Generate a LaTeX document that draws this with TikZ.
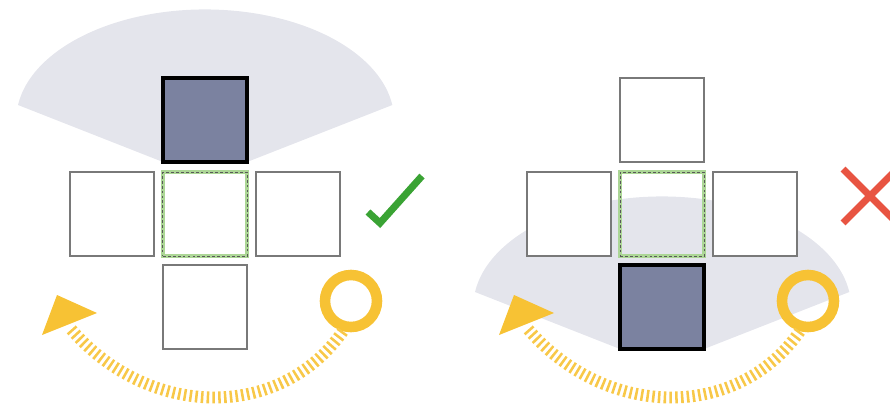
\documentclass[tikz,border=0pt]{standalone}
\usepackage{xcolor}
\usepackage{tikz}
\usetikzlibrary{calc,positioning,backgrounds}

\definecolor{wedgegray}{RGB}{228,229,236}
\definecolor{slate}{RGB}{123,130,160}
\definecolor{goalgreen}{RGB}{172,214,150}
\definecolor{okgreen}{RGB}{58,163,52}
\definecolor{badred}{RGB}{232,84,66}
\definecolor{amber}{RGB}{247,194,52}

\begin{document}
\begin{tikzpicture}[x=0.025cm, y=-0.025cm,
          cell/.style={draw=gray!95!black, fill=white, line width=1.1pt, minimum size=2.1cm, inner sep=0pt, outer sep=0pt},
          seen/.style={cell, draw=black, fill=slate, line width=2.6pt},
          goal/.style={cell, fill=none, draw=goalgreen, line width=2.6pt,
            postaction={draw=gray!70!black, line width=0.7pt, dash pattern=on 2pt off 1.5pt}},
          fov/.style={fill=wedgegray},
          ring/.style={circle, draw=amber, line width=7.5pt, minimum size=1.3cm, inner sep=0pt},
          trail/.style={draw=amber!90, line width=8.5pt, dash pattern=on 1.8pt off 2.3pt},
          signstroke/.style={line width=5pt},
        ]
        \useasboundingbox (0,0) rectangle (890,409);
        % left: the cell ahead is seen
        \node[seen] (Ltop) at (205,120) {};
        \node[cell] (Lleft) at (112,214) {};
        \node[goal] (Lmid) at (205,214) {};
        \node[cell] (Lright) at (298,214) {};
        \node[cell] (Lbot) at (205,307) {};
        % right: the cell behind is seen
        \node[cell] (Rtop) at (662,120) {};
        \node[cell] (Rleft) at (569,214) {};
        \node[goal] (Rmid) at (662,214) {};
        \node[cell] (Rright) at (755,214) {};
        \node[seen] (Rbot) at (662,307) {};
        \begin{scope}[on background layer]
          \fill[fov] (Ltop.south west) -- (18,105)
            arc[start angle=188, end angle=352, x radius=189, y radius=111] -- (Ltop.south east) -- cycle;
          \fill[fov] (Rbot.south west) -- (475,292)
            arc[start angle=188, end angle=352, x radius=189, y radius=111] -- (Rbot.south east) -- cycle;
        \end{scope}
        \draw[signstroke, okgreen] (368,212) -- (380,223) -- (422,176);
        \draw[signstroke, badred] (843,169) -- (897,223) (843,223) -- (897,169);
        % turning arrows
        \node[ring] (Lring) at (351,301) {};
        \node[ring] (Rring) at (808,301) {};
        \coordinate (Lend) at (70,328);
        \coordinate (Rend) at (527,328);
        \draw[trail] (Lring.255) .. controls +(-63,90) and +(78,91) .. (Lend);
        \draw[trail] (Rring.255) .. controls +(-63,90) and +(78,91) .. (Rend);
        \fill[amber] (42,335) -- (57,295) -- (97,313) -- cycle;
        \fill[amber] (499,335) -- (514,295) -- (554,313) -- cycle;
      \end{tikzpicture}
\end{document}
